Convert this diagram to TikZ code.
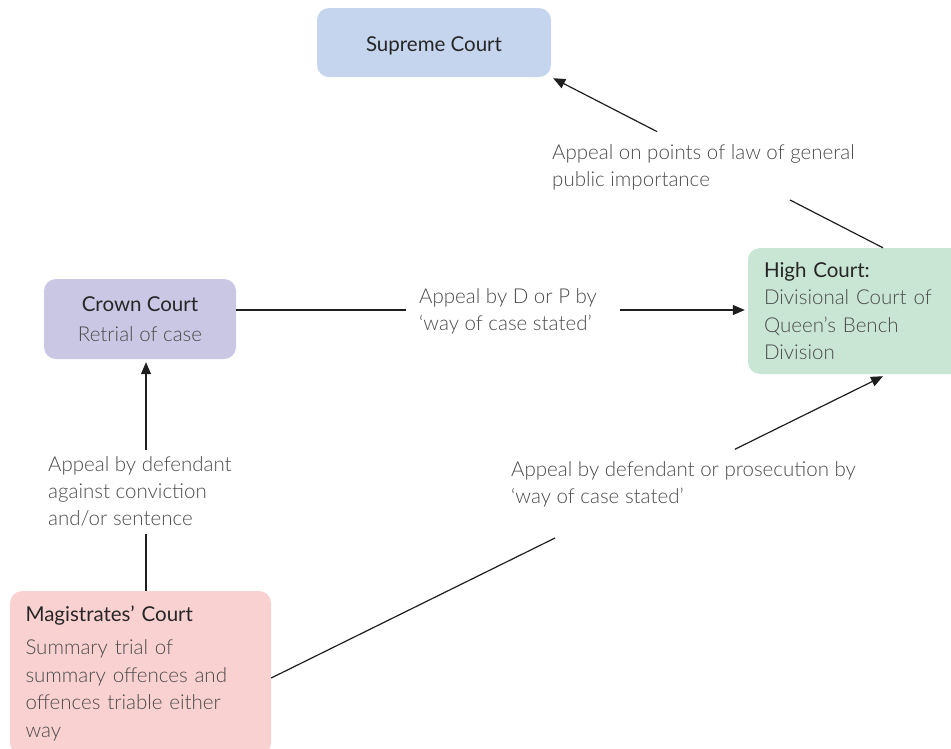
\documentclass[tikz,border=0pt]{standalone}
\usepackage{fontspec}
\setmainfont{Lato}
\newfontfamily\lightfont{Lato}[UprightFont={* Light}]
\usetikzlibrary{arrows.meta,calc}

\definecolor{supremefill}{HTML}{C6D5EE}
\definecolor{crownfill}{HTML}{C9C7E4}
\definecolor{highfill}{HTML}{C9E6D5}
\definecolor{magfill}{HTML}{FAD1D1}
\definecolor{titleink}{HTML}{262626}
\definecolor{bodyink}{HTML}{4A4A4A}
\definecolor{lineink}{HTML}{1E1E1E}

\newcommand{\courttitle}[1]{{\color{titleink}#1}}
\newcommand{\courtbody}[1]{{\lightfont\color{bodyink}#1}}

\begin{document}
\begin{tikzpicture}[x=1pt,y=-1pt,
  court/.style={rounded corners=12pt, draw=none, inner sep=0pt},
  courttext/.style={font=\fontsize{20.5}{27.5}\selectfont},
  appeal/.style={font=\fontsize{20.5}{27}\selectfont\lightfont, text=bodyink,
    align=left, anchor=north west, inner sep=0pt},
  link/.style={draw=lineink, line width=1.2pt},
  tip/.style={-{Triangle[length=12pt,width=10pt]}}]
\useasboundingbox (0,0) rectangle (951,748);
\clip (0,0) rectangle (951,748);

% courts
\node[court, courttext, fill=supremefill, minimum width=234pt, minimum height=69pt, text depth=0pt]
  (sc) at (434,42.5) {\raisebox{-3pt}{\courttitle{Supreme Court}}\hspace{6pt}};
\node[court, courttext, fill=crownfill, minimum width=192pt, minimum height=80pt, align=center]
  (cc) at (140,319) {\courttitle{Crown Court}\\[3pt]\courtbody{Retrial of case}};
\node[court, courttext, fill=highfill, minimum width=222pt, minimum height=126pt,
  text width=190pt, align=left]
  (hc) at (859,311) {\courttitle{High Court:}\\\courtbody{Divisional Court of}\\
  \courtbody{Queen’s Bench}\\\courtbody{Division}};
\node[court, courttext, fill=magfill, minimum width=261pt, minimum height=164pt,
  text width=230pt, align=left]
  (mc) at (140.5,673) {\courttitle{Magistrates’ Court}\\[6pt]\courtbody{Summary trial of}\\
  \courtbody{summary offences and}\\\courtbody{offences triable either}\\\courtbody{way}};

% appeal labels
\node[appeal] (lawlab) at (552,144) {Appeal on points of law of general\\public importance};
\node[appeal] (caselab) at (419,288) {Appeal by D or P by\\‘way of case stated’};
\node[appeal] (convlab) at (48,456) {Appeal by defendant\\against conviction\\and/or sentence};
\node[appeal] (proslab) at (511,461) {Appeal by defendant or prosecution by\\‘way of case stated’};

% connector end points
\coordinate (hcTop) at ($(hc.north)+(24,0)$);
\coordinate (hcBot) at ($(hc.south)+(24,2)$);
\coordinate (scEnd) at ($(sc.south east)+(2,1)$);
\coordinate (ccOut) at ($(cc.east)+(0,-9)$);
\coordinate (hcIn) at ($(hc.west)+(-3,-1)$);
\coordinate (ccIn) at ($(cc.south)+(6,3)$);
\coordinate (mcUp) at ($(mc.north)+(5.5,0)$);
\coordinate (mcOut) at ($(mc.east)+(0,5)$);

% gaps left for the labels
\path (hcTop) -- (scEnd) coordinate[pos=0.282] (a1) coordinate[pos=0.685] (a2);
\path (ccOut) -- (hcIn) coordinate[pos=0.334] (b1) coordinate[pos=0.754] (b2);
\path (mcUp) -- (ccIn) coordinate[pos=0.25] (c1) coordinate[pos=0.614] (c2);
\path (mcOut) -- (hcBot) coordinate[pos=0.464] (d1) coordinate[pos=0.758] (d2);

% connectors
\draw[link] (hcTop) -- (a1);
\draw[link, tip] (a2) -- (scEnd);
\draw[link] (ccOut) -- (b1);
\draw[link, tip] (b2) -- (hcIn);
\draw[link] (mcUp) -- (c1);
\draw[link, tip] (c2) -- (ccIn);
\draw[link] (mcOut) -- (d1);
\draw[link, tip] (d2) -- (hcBot);
\end{tikzpicture}
\end{document}
